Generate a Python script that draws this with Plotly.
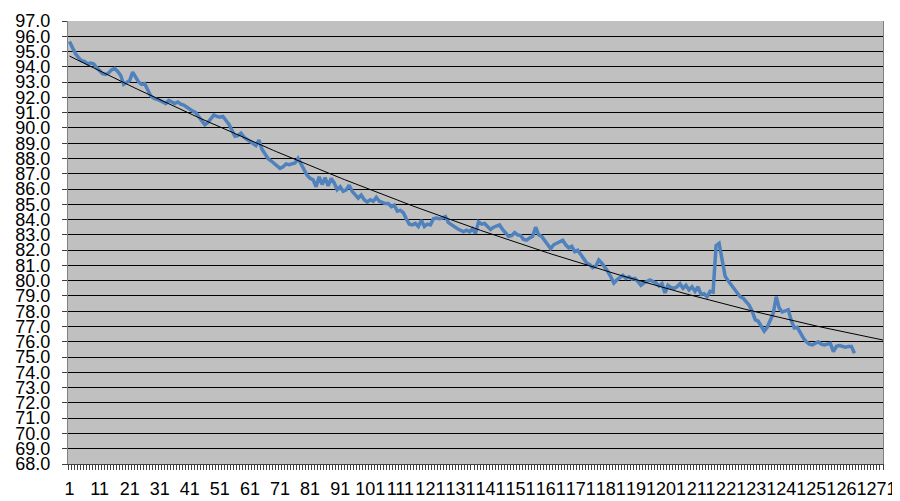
import numpy as np
import plotly.graph_objects as go

# Series values (index 1..262)
values = [
    95.65, 95.2, 94.85, 94.6, 94.4, 94.35, 94.2, 94.25, 94.2, 93.95,
    93.75, 93.55, 93.5, 93.6, 93.8, 93.9, 93.7, 93.45, 92.85, 93.0,
    93.1, 93.65, 93.3, 93.0, 92.85, 92.9, 92.5, 92.1, 91.95, 91.9,
    91.8, 91.7, 91.6, 91.8, 91.7, 91.6, 91.7, 91.55, 91.5, 91.35,
    91.25, 91.1, 91.0, 90.7, 90.5, 90.2, 90.35, 90.6, 90.85, 90.75,
    90.7, 90.75, 90.5, 90.25, 89.85, 89.45, 89.5, 89.65, 89.4, 89.25,
    89.15, 89.0, 88.85, 89.2, 88.6, 88.3, 88.0, 87.85, 87.7, 87.5,
    87.35, 87.45, 87.65, 87.6, 87.65, 87.7, 88.0, 87.6, 87.2, 86.9,
    86.7, 86.6, 86.15, 86.8, 86.3, 86.75, 86.2, 86.7, 86.4, 85.95,
    86.15, 85.85, 85.95, 86.25, 85.85, 85.6, 85.4, 85.6, 85.3, 85.15,
    85.3, 85.2, 85.45, 85.2, 85.1, 85.05, 85.05, 84.85, 84.95, 84.55,
    84.6, 84.45, 84.05, 83.7, 83.65, 83.75, 83.55, 83.95, 83.55, 83.7,
    83.65, 84.05, 84.1, 84.05, 84.1, 84.2, 83.8, 83.65, 83.55, 83.4,
    83.3, 83.2, 83.3, 83.2, 83.4, 83.1, 83.85, 83.7, 83.75, 83.55,
    83.35, 83.5, 83.6, 83.65, 83.35, 83.1, 82.9, 82.95, 83.15, 83.0,
    82.95, 82.7, 82.65, 82.8, 82.9, 83.5, 83.0, 82.9, 82.6, 82.4,
    82.1, 82.35, 82.45, 82.55, 82.65, 82.35, 82.15, 82.25, 81.9, 82.0,
    81.7, 81.35, 81.15, 81.05, 80.85, 80.95, 81.35, 81.15, 80.9, 80.6,
    80.25, 79.85, 80.05, 80.2, 80.35, 80.15, 80.25, 80.1, 80.15, 79.95,
    79.7, 79.85, 79.95, 80.05, 79.95, 79.85, 79.65, 79.8, 79.2, 79.7,
    79.55, 79.5, 79.6, 79.8, 79.5, 79.7, 79.4, 79.6, 79.3, 79.6,
    79.1, 79.15, 78.95, 79.3, 79.25, 82.3, 82.45, 81.2, 80.3, 80.0,
    79.75, 79.5, 79.2, 78.95, 78.85, 78.65, 78.4, 78.0, 77.45, 77.35,
    77.0, 76.7, 76.95, 77.4, 77.85, 78.95, 78.2, 77.95, 78.0, 78.1,
    77.4, 76.9, 76.95, 76.55, 76.25, 76.0, 75.85, 75.8, 75.9, 76.0,
    75.85, 75.8, 75.85, 75.9, 75.35, 75.7, 75.75, 75.7, 75.65, 75.7,
    75.7, 75.25,
]
n_categories = 271
x_tick_labels = [str(v) for v in range(1, n_categories + 1, 10)]
y_tick_values = list(range(68, 98))

x = np.arange(1, len(values) + 1)
# Polynomial (order 2) trendline, extended forward to the last category
coef = np.polyfit(x, values, 2)
x_trend = np.linspace(1, n_categories + 0.5, 300)
y_trend = np.polyval(coef, x_trend)

fig = go.Figure()
fig.add_trace(go.Scatter(
    x=x, y=values, mode="lines",
    line=dict(color="#4F81BD", width=3.5), showlegend=False,
))
fig.add_trace(go.Scatter(
    x=x_trend, y=y_trend, mode="lines",
    line=dict(color="#000000", width=1), showlegend=False,
))

font = dict(family="Liberation Sans, Arial, sans-serif", size=18, color="#000000")

# The page body has an 8px default margin, so the figure is sized/placed to compensate
fig.update_layout(
    width=892, height=493,
    margin=dict(l=60, r=17, t=13, b=37, autoexpand=False),
    paper_bgcolor="#FFFFFF",
    plot_bgcolor="#C0C0C0",
    font=font,
    xaxis=dict(
        range=[0.5, n_categories + 0.5],
        tickmode="array",
        tickvals=[int(t) for t in x_tick_labels],
        ticktext=x_tick_labels,
        tickangle=0, automargin=False,
        ticks="outside", ticklen=5, tickcolor="rgba(0,0,0,0)",
        minor=dict(ticks="outside", ticklen=5, tick0=0.5, dtick=1,
                   tickcolor="#404040", tickwidth=1, showgrid=False),
        showgrid=False, zeroline=False,
        showline=True, linecolor="#404040", linewidth=1,
        tickfont=font, ticklabelstandoff=3,
    ),
    yaxis=dict(
        range=[68, 97],
        tickmode="array",
        tickvals=y_tick_values,
        ticktext=[f"{v:.1f}" for v in y_tick_values],
        automargin=False,
        ticks="outside", ticklen=5, tickcolor="#404040",
        showgrid=True, gridcolor="#000000", gridwidth=1,
        zeroline=False,
        showline=True, linecolor="#808080", linewidth=1, mirror=True,
        tickfont=font, ticklabelstandoff=8,
    ),
)

fig.write_html("out.html")
